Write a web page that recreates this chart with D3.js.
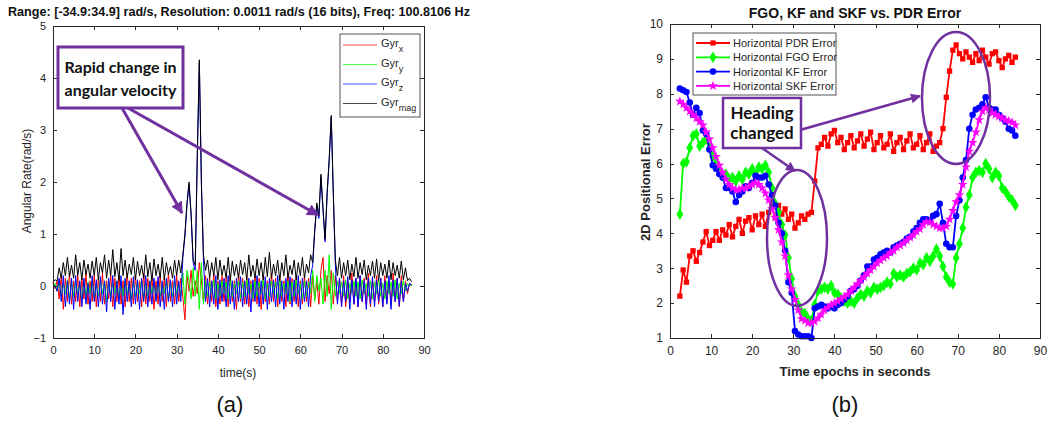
<!DOCTYPE html>
<html>
<head>
<meta charset="utf-8">
<script src="https://cdn.jsdelivr.net/npm/d3@7"></script>
<style>
  body{margin:0;background:#fff;}
  svg{font-family:"Liberation Sans",Arial,sans-serif;}
  .axis path,.axis line{stroke:#262626;stroke-width:1;shape-rendering:crispEdges;}
  .axis text{fill:#262626;font-size:11px;font-family:"Liberation Sans",Arial,sans-serif;}
  .axisb text{font-size:12px;}
</style>
</head>
<body>
<svg id="fig" width="1047" height="422"></svg>
<script>
// ---------- panel (a): gyroscope rates, sampled every 0.5 s ----------
var gyrTime = d3.range(0, 87.01, 0.5);
var gyrX = [
  0.05,-0.05,0.1,-0.25,0.2,-0.45,0.15,-0.3,0.25,-0.35,
  0.1,-0.3,0.2,-0.4,0.15,-0.25,0.25,-0.35,0.1,-0.3,
  0.2,-0.4,0.15,-0.3,0.25,-0.35,0.1,-0.25,0.2,-0.4,
  0.15,-0.3,0.2,-0.35,0.1,-0.4,0.25,-0.3,0.15,-0.35,
  0.2,-0.3,0.1,-0.4,0.25,-0.35,0.15,-0.3,0.2,-0.45,
  0.1,-0.35,0.2,-0.3,0.15,-0.4,0.25,-0.3,0.1,-0.35,
  0.2,-0.3,0.15,-0.2,-0.65,0.2,-0.1,0.3,-0.2,0.1,
  -0.15,0.45,0.1,-0.3,0.2,-0.35,0.15,-0.3,0.25,-0.4,
  0.1,-0.35,0.2,-0.3,0.15,-0.4,0.2,-0.3,0.1,-0.45,
  0.25,-0.3,0.15,-0.35,0.2,-0.4,0.1,-0.3,0.2,-0.35,
  0.15,-0.45,0.2,-0.3,0.1,-0.35,0.25,-0.3,0.15,-0.4,
  0.2,-0.3,0.1,-0.4,0.25,-0.35,0.15,-0.3,0.2,-0.4,
  0.1,-0.35,0.2,-0.3,0.15,-0.4,0.2,-0.25,0.1,-0.35,
  0.3,0.55,-0.3,0.2,-0.15,0.3,-0.35,0.2,-0.3,0.15,
  -0.35,0.2,-0.4,0.1,-0.3,0.25,-0.35,0.15,-0.4,0.2,
  -0.3,0.15,-0.35,0.25,-0.4,0.1,-0.3,0.2,-0.35,0.15,
  -0.4,0.2,-0.3,0.1,-0.35,0.25,-0.3,0.15,-0.4,0.2,
  -0.3,0.1,-0.15,0.05,0.0
];
var gyrY = [
  0.0,0.05,-0.1,0.1,-0.2,0.05,-0.15,0.12,-0.25,0.08,
  -0.2,0.1,-0.15,0.05,-0.25,0.12,-0.2,0.08,-0.15,0.1,
  -0.25,0.05,-0.2,0.12,-0.15,0.08,-0.3,0.1,-0.2,0.05,
  -0.15,0.1,-0.25,0.08,-0.2,0.12,-0.15,0.05,-0.25,0.1,
  -0.2,0.08,-0.15,0.12,-0.25,0.05,-0.2,0.1,-0.15,0.08,
  -0.25,0.1,-0.2,0.05,-0.15,0.12,-0.25,0.08,-0.2,0.1,
  -0.15,0.05,-0.2,0.25,-0.35,0.3,0.1,-0.25,0.35,-0.2,
  0.3,-0.45,0.45,-0.35,0.1,-0.2,0.08,-0.15,0.12,-0.25,
  0.05,-0.2,0.1,-0.15,0.08,-0.25,0.12,-0.2,0.05,-0.15,
  0.1,-0.25,0.08,-0.2,0.12,-0.15,0.05,-0.25,0.1,-0.2,
  0.08,-0.15,0.12,-0.25,0.05,-0.2,0.1,-0.15,0.08,-0.25,
  0.12,-0.2,0.05,-0.15,0.1,-0.3,0.08,-0.2,0.12,-0.15,
  0.05,-0.25,0.1,-0.2,0.08,-0.15,0.3,-0.3,0.2,-0.1,
  0.15,-0.35,0.3,-0.2,0.6,-0.45,0.25,-0.2,0.1,-0.15,
  0.08,-0.2,0.12,-0.25,0.05,-0.15,0.1,-0.2,0.08,-0.25,
  0.12,-0.15,0.05,-0.2,0.1,-0.25,0.08,-0.15,0.12,-0.2,
  0.05,-0.25,0.1,-0.15,0.08,-0.2,0.12,-0.25,0.05,-0.15,
  0.1,-0.1,0.05,0.0,0.02
];
var gyrZ = [
  0.02,0.0,-0.1,0.15,-0.3,0.2,-0.4,0.1,-0.35,0.15,
  -0.45,0.2,-0.3,0.1,-0.4,0.15,-0.35,0.05,-0.45,0.2,
  -0.3,0.12,-0.4,0.18,-0.35,0.1,-0.5,0.15,-0.3,0.2,
  -0.45,0.1,-0.35,0.2,-0.55,0.15,-0.3,0.1,-0.4,0.18,
  -0.35,0.12,-0.45,0.15,-0.3,0.2,-0.4,0.1,-0.35,0.15,
  -0.3,0.18,-0.4,0.1,-0.45,0.15,-0.3,0.12,-0.4,0.2,
  -0.35,0.1,-0.3,0.55,0.95,1.55,1.95,1.35,0.45,0.3,
  2.45,4.3,1.95,0.5,-0.3,0.15,-0.4,0.1,-0.35,0.2,
  -0.45,0.12,-0.3,0.15,-0.4,0.2,-0.35,0.1,-0.45,0.15,
  -0.3,0.18,-0.4,0.1,-0.35,0.15,-0.5,0.12,-0.3,0.2,
  -0.4,0.1,-0.35,0.18,-0.45,0.15,-0.3,0.12,-0.4,0.2,
  -0.35,0.1,-0.45,0.15,-0.3,0.18,-0.4,0.12,-0.35,0.2,
  -0.45,0.15,-0.3,0.1,-0.4,0.2,0.4,1.05,1.55,1.3,
  2.1,1.45,0.85,1.75,2.4,3.25,1.75,0.4,-0.35,0.15,
  -0.4,0.1,-0.3,0.18,-0.45,0.12,-0.35,0.15,-0.4,0.2,
  -0.3,0.1,-0.45,0.15,-0.35,0.18,-0.4,0.12,-0.3,0.15,
  -0.4,0.1,-0.35,0.2,-0.45,0.12,-0.3,0.15,-0.38,0.1,
  -0.3,0.05,-0.1,0.05,0.02
];
var gyrMag = [
  0.08,0.12,0.1,0.35,0.15,0.45,0.2,0.55,0.18,0.4,
  0.15,0.6,0.2,0.45,0.12,0.5,0.22,0.42,0.15,0.48,
  0.2,0.55,0.12,0.45,0.25,0.6,0.15,0.5,0.2,0.7,
  0.18,0.45,0.1,0.72,0.2,0.5,0.15,0.42,0.22,0.55,
  0.12,0.48,0.2,0.4,0.15,0.6,0.18,0.45,0.1,0.52,
  0.2,0.42,0.15,0.55,0.12,0.45,0.22,0.38,0.15,0.5,
  0.2,0.5,0.25,0.6,1.0,1.6,2.0,1.4,0.5,0.4,
  2.5,4.35,2.0,0.6,0.3,0.5,0.15,0.45,0.2,0.55,
  0.12,0.5,0.2,0.4,0.15,0.55,0.1,0.48,0.2,0.42,
  0.15,0.5,0.22,0.45,0.12,0.6,0.18,0.4,0.15,0.52,
  0.2,0.45,0.12,0.55,0.18,0.65,0.15,0.42,0.2,0.5,
  0.1,0.45,0.2,0.6,0.15,0.4,0.22,0.5,0.12,0.45,
  0.2,0.55,0.15,0.42,0.25,0.6,0.45,1.1,1.6,1.35,
  2.15,1.5,0.9,1.8,2.45,3.28,1.8,0.5,0.2,0.55,
  0.15,0.45,0.2,0.5,0.12,0.42,0.18,0.55,0.15,0.45,
  0.22,0.5,0.12,0.4,0.2,0.48,0.15,0.52,0.1,0.45,
  0.2,0.42,0.15,0.5,0.12,0.45,0.2,0.4,0.15,0.48,
  0.12,0.35,0.1,0.15,0.08
];
var gyrNames = ['x','y','z','mag'];
var gyrColors = ['#ff0000','#00ff00','#0000ff','#000000'];
var axisTicksA = {x:[0,10,20,30,40,50,60,70,80,90], y:[-1,0,1,2,3,4,5]};

// ---------- panel (b): positional error, one epoch every 0.8 s ----------
var epochs = d3.range(2.4, 84.01, 0.8);
var pdrErr = [
  2.2,2.95,2.6,3.35,3.5,3.2,3.45,3.75,4.05,3.65,
  3.8,4.05,3.8,4.1,3.95,4.25,3.9,4.2,4.4,4.0,
  4.35,4.45,4.1,4.5,4.25,4.55,4.2,4.6,4.75,4.45,
  4.8,4.55,4.7,4.4,4.55,4.15,4.3,4.5,4.4,4.55,
  4.6,5.5,6.45,6.55,6.75,6.5,6.85,6.95,6.6,6.75,
  6.4,6.6,6.8,6.45,6.65,6.85,6.5,6.7,6.9,6.4,
  6.6,6.8,6.45,6.55,6.85,6.35,6.6,6.75,6.4,6.65,
  6.85,6.45,6.55,6.8,6.4,6.6,6.85,6.35,6.5,6.6,
  7.0,7.9,8.65,9.25,9.4,9.15,9.0,9.2,9.05,8.9,
  9.15,8.95,9.25,9.05,8.85,9.15,9.2,8.95,8.75,9.0,
  9.1,8.9,9.05
];
var fgoErr = [
  4.55,6.0,6.05,6.45,6.8,6.85,6.5,6.6,6.7,6.45,
  6.2,6.0,5.8,5.65,5.7,5.55,5.6,5.5,5.65,5.55,
  5.75,5.7,5.85,5.7,5.9,5.85,5.95,5.75,5.3,4.85,
  4.6,4.25,3.95,3.3,2.7,2.2,1.95,1.75,1.7,1.55,
  1.5,1.95,2.35,2.4,2.45,2.4,2.5,2.3,2.25,2.15,
  2.05,2.0,2.05,2.0,2.15,2.25,2.2,2.35,2.3,2.45,
  2.4,2.45,2.5,2.6,2.55,2.85,2.75,2.8,2.75,2.85,
  2.9,3.0,2.95,3.15,3.1,3.3,3.2,3.35,3.55,3.35,
  3.05,2.75,2.6,2.55,3.3,3.7,4.15,4.75,5.1,5.6,
  5.75,5.8,5.75,6.0,5.85,5.6,5.75,5.65,5.3,5.2,
  5.05,4.95,4.8
];
var kfErr = [
  8.15,8.1,8.05,7.75,7.4,7.6,7.45,6.95,6.85,6.4,
  5.95,5.85,5.7,5.6,5.3,5.3,5.2,4.9,5.1,5.2,
  5.35,5.3,5.45,5.65,5.6,5.6,5.65,5.4,5.1,4.8,
  4.3,4.0,3.5,2.6,2.3,1.2,1.1,1.05,1.05,1.05,
  1.0,1.85,1.9,1.95,1.9,1.85,1.9,1.85,1.95,2.0,
  2.1,2.2,2.35,2.4,2.5,2.65,2.8,3.05,3.05,3.25,
  3.3,3.4,3.45,3.5,3.45,3.6,3.65,3.7,3.75,3.85,
  3.9,4.05,4.15,4.3,4.4,4.4,4.35,4.5,4.55,4.85,
  4.3,3.7,3.6,3.6,4.5,4.95,5.6,6.1,7.0,7.4,
  7.55,7.6,7.7,7.9,7.6,7.55,7.55,7.4,7.3,7.2,
  7.0,6.95,6.8
];
var skfErr = [
  7.78,7.7,7.6,7.5,7.4,7.3,7.2,7.1,6.9,6.7,
  6.45,6.2,5.95,5.75,5.55,5.4,5.3,5.25,5.25,5.3,
  5.3,5.35,5.4,5.45,5.4,5.3,5.15,4.95,4.7,4.45,
  4.1,3.75,3.35,2.8,2.4,2.1,1.8,1.55,1.5,1.43,
  1.43,1.47,1.57,1.68,1.8,1.88,1.95,2.0,2.05,2.12,
  2.18,2.25,2.35,2.45,2.55,2.65,2.75,2.85,2.95,3.05,
  3.15,3.22,3.3,3.35,3.45,3.5,3.6,3.65,3.72,3.8,
  3.88,3.95,4.05,4.12,4.25,4.33,4.32,4.25,4.2,4.15,
  4.15,4.2,4.4,4.65,4.9,5.1,5.4,5.9,6.35,6.6,
  6.9,7.25,7.5,7.6,7.55,7.45,7.4,7.35,7.3,7.25,
  7.22,7.18,7.1
];
var errNames = ['Horizontal PDR Error','Horizontal FGO Error','Horizontal KF Error','Horizontal SKF Error'];
var errColors = ['#ff0000','#00ff00','#0000ff','#ff00ff'];
var errSymbols = [d3.symbolSquare, d3.symbolDiamond, d3.symbolCircle, d3.symbolStar];
var axisTicksB = {x:[0,10,20,30,40,50,60,70,80,90], y:[1,2,3,4,5,6,7,8,9,10]};

var svg = d3.select('#fig');
var purple = '#7030a0';

svg.append('defs').append('marker')
    .attr('id','arrow').attr('viewBox','0 0 10 10')
    .attr('refX',9).attr('refY',5)
    .attr('markerWidth',4).attr('markerHeight',4)
    .attr('orient','auto')
  .append('path').attr('d','M0,0L10,5L0,10z').attr('fill',purple);

//Box axes with inward ticks, labels only bottom/left
function drawBox(g, x, y, xt, yt, cls){
  var yb = y.range()[0], yt0 = y.range()[1], xl = x.range()[0], xr = x.range()[1];
  var fmt = d3.format('d');
  g.append('g').attr('class','axis '+cls).attr('transform','translate(0,'+yb+')')
    .call(d3.axisBottom(x).tickValues(xt).tickFormat(fmt).tickSize(-4).tickSizeOuter(0).tickPadding(8));
  g.append('g').attr('class','axis').attr('transform','translate(0,'+yt0+')')
    .call(d3.axisTop(x).tickValues(xt).tickSize(-4).tickSizeOuter(0).tickFormat(''));
  g.append('g').attr('class','axis '+cls).attr('transform','translate('+xl+',0)')
    .call(d3.axisLeft(y).tickValues(yt).tickFormat(fmt).tickSize(-4).tickSizeOuter(0).tickPadding(7));
  g.append('g').attr('class','axis').attr('transform','translate('+xr+',0)')
    .call(d3.axisRight(y).tickValues(yt).tickSize(-4).tickSizeOuter(0).tickFormat(''));
}

// ================= panel (a) =================
var xA = d3.scaleLinear().domain([0,90]).range([53,424]);
var yA = d3.scaleLinear().domain([-1,5]).range([338,26]);
var gA = svg.append('g');

var lineA = d3.line().x(function(d,i){return xA(gyrTime[i]);}).y(function(d){return yA(d);});
[gyrX, gyrY, gyrZ, gyrMag].forEach(function(s,k){
  gA.append('path').attr('d',lineA(s)).attr('fill','none')
    .attr('stroke',gyrColors[k]).attr('stroke-width',1).attr('stroke-linejoin','round');
});
drawBox(gA, xA, yA, axisTicksA.x, axisTicksA.y, 'axisa');

gA.append('text').attr('x',8).attr('y',16)
  .attr('font-size',12.5).attr('font-weight','bold').attr('fill','#111')
  .attr('textLength',462).attr('lengthAdjust','spacingAndGlyphs')
  .text('Range: [-34.9:34.9] rad/s, Resolution: 0.0011 rad/s (16 bits), Freq: 100.8106 Hz');
gA.append('text').attr('transform','translate(31,181) rotate(-90)').attr('text-anchor','middle')
  .attr('font-size',12).attr('fill','#262626').text('Angular Rate(rad/s)');
gA.append('text').attr('x',238).attr('y',377).attr('text-anchor','middle')
  .attr('font-size',12).attr('fill','#262626').text('time(s)');
gA.append('text').attr('x',230).attr('y',412).attr('text-anchor','middle')
  .attr('font-size',22).attr('fill','#111').text('(a)');

// legend (a)
var legA = gA.append('g');
legA.append('rect').attr('x',340).attr('y',34).attr('width',80).attr('height',83)
  .attr('fill','#fff').attr('stroke','#555').attr('stroke-width',1);
gyrNames.forEach(function(n,k){
  var yy = 45 + k*19.5;
  legA.append('line').attr('x1',343).attr('x2',377).attr('y1',yy).attr('y2',yy)
    .attr('stroke',gyrColors[k]).attr('stroke-width',1).attr('opacity',0.7);
  var t = legA.append('text').attr('x',381).attr('y',yy+2).attr('font-size',11).attr('fill','#262626');
  t.append('tspan').text('Gyr');
  t.append('tspan').attr('dy',5).attr('font-size',9).text(n);
});

// annotation (a)
gA.append('line').attr('x1',122).attr('y1',108).attr('x2',182).attr('y2',213)
  .attr('stroke',purple).attr('stroke-width',3).attr('marker-end','url(#arrow)');
gA.append('line').attr('x1',128).attr('y1',108).attr('x2',318).attr('y2',215)
  .attr('stroke',purple).attr('stroke-width',3).attr('marker-end','url(#arrow)');
gA.append('rect').attr('x',58).attr('y',47).attr('width',125).attr('height',61)
  .attr('fill','#fff').attr('stroke',purple).attr('stroke-width',3);
gA.append('text').attr('x',120.5).attr('y',73).attr('text-anchor','middle')
  .attr('font-family','Lato, "Open Sans", sans-serif').attr('font-weight','bold').attr('font-size',16)
  .attr('fill','#111').text('Rapid change in');
gA.append('text').attr('x',120.5).attr('y',96).attr('text-anchor','middle')
  .attr('font-family','Lato, "Open Sans", sans-serif').attr('font-weight','bold').attr('font-size',16)
  .attr('fill','#111').text('angular velocity');

// ================= panel (b) =================
var xB = d3.scaleLinear().domain([0,90]).range([670,1040]);
var yB = d3.scaleLinear().domain([1,10]).range([338,24]);
var gB = svg.append('g');

var lineB = d3.line().x(function(d,i){return xB(epochs[i]);}).y(function(d){return yB(d);});
var symSize = [28, 40, 34, 30];
[pdrErr, fgoErr, kfErr, skfErr].forEach(function(s,k){
  var gs = gB.append('g');
  gs.append('path').attr('d',lineB(s)).attr('fill','none')
    .attr('stroke',errColors[k]).attr('stroke-width',1.8);
  gs.selectAll('path.mk').data(s).enter().append('path').attr('class','mk')
    .attr('transform',function(d,i){return 'translate('+xB(epochs[i])+','+yB(d)+')';})
    .attr('d',d3.symbol().type(errSymbols[k]).size(symSize[k]))
    .attr('fill',errColors[k]);
});
drawBox(gB, xB, yB, axisTicksB.x, axisTicksB.y, 'axisb');

gB.append('text').attr('x',855).attr('y',18).attr('text-anchor','middle')
  .attr('font-size',14).attr('font-weight','bold').attr('fill','#111')
  .text('FGO, KF and SKF vs. PDR Error');
gB.append('text').attr('transform','translate(650,182) rotate(-90)').attr('text-anchor','middle')
  .attr('font-size',13).attr('font-weight','bold').attr('fill','#262626').text('2D Positional Error');
gB.append('text').attr('x',855).attr('y',376).attr('text-anchor','middle')
  .attr('font-size',13).attr('font-weight','bold').attr('fill','#262626').text('Time epochs in seconds');
gB.append('text').attr('x',845).attr('y',412).attr('text-anchor','middle')
  .attr('font-size',22).attr('fill','#111').text('(b)');

// legend (b)
var legB = gB.append('g');
legB.append('rect').attr('x',693).attr('y',33).attr('width',143).attr('height',62)
  .attr('fill','#fff').attr('stroke','#555').attr('stroke-width',1);
errNames.forEach(function(n,k){
  var yy = 43 + k*14.3;
  legB.append('line').attr('x1',696).attr('x2',730).attr('y1',yy).attr('y2',yy)
    .attr('stroke',errColors[k]).attr('stroke-width',1.8);
  legB.append('path').attr('transform','translate(713,'+yy+')')
    .attr('d',d3.symbol().type(errSymbols[k]).size(symSize[k])).attr('fill',errColors[k]);
  legB.append('text').attr('x',733).attr('y',yy+4).attr('font-size',11).attr('fill','#262626').text(n);
});

// annotation (b)
gB.append('ellipse').attr('cx',797).attr('cy',238).attr('rx',30).attr('ry',68)
  .attr('fill','none').attr('stroke',purple).attr('stroke-width',2.5);
gB.append('ellipse').attr('cx',956).attr('cy',98).attr('rx',34).attr('ry',66)
  .attr('fill','none').attr('stroke',purple).attr('stroke-width',2.5);
gB.append('line').attr('x1',800).attr('y1',130).attr('x2',920).attr('y2',96)
  .attr('stroke',purple).attr('stroke-width',2.5).attr('marker-end','url(#arrow)');
gB.append('line').attr('x1',762).attr('y1',148).attr('x2',795).attr('y2',171)
  .attr('stroke',purple).attr('stroke-width',2.5).attr('marker-end','url(#arrow)');
gB.append('rect').attr('x',723).attr('y',98).attr('width',78).attr('height',50)
  .attr('fill','#fff').attr('stroke',purple).attr('stroke-width',2.5);
gB.append('text').attr('x',762).attr('y',119).attr('text-anchor','middle')
  .attr('font-family','Lato, "Open Sans", sans-serif').attr('font-weight','bold').attr('font-size',17)
  .attr('fill','#111').text('Heading');
gB.append('text').attr('x',762).attr('y',139).attr('text-anchor','middle')
  .attr('font-family','Lato, "Open Sans", sans-serif').attr('font-weight','bold').attr('font-size',17)
  .attr('fill','#111').text('changed');
</script>
</body>
</html>
